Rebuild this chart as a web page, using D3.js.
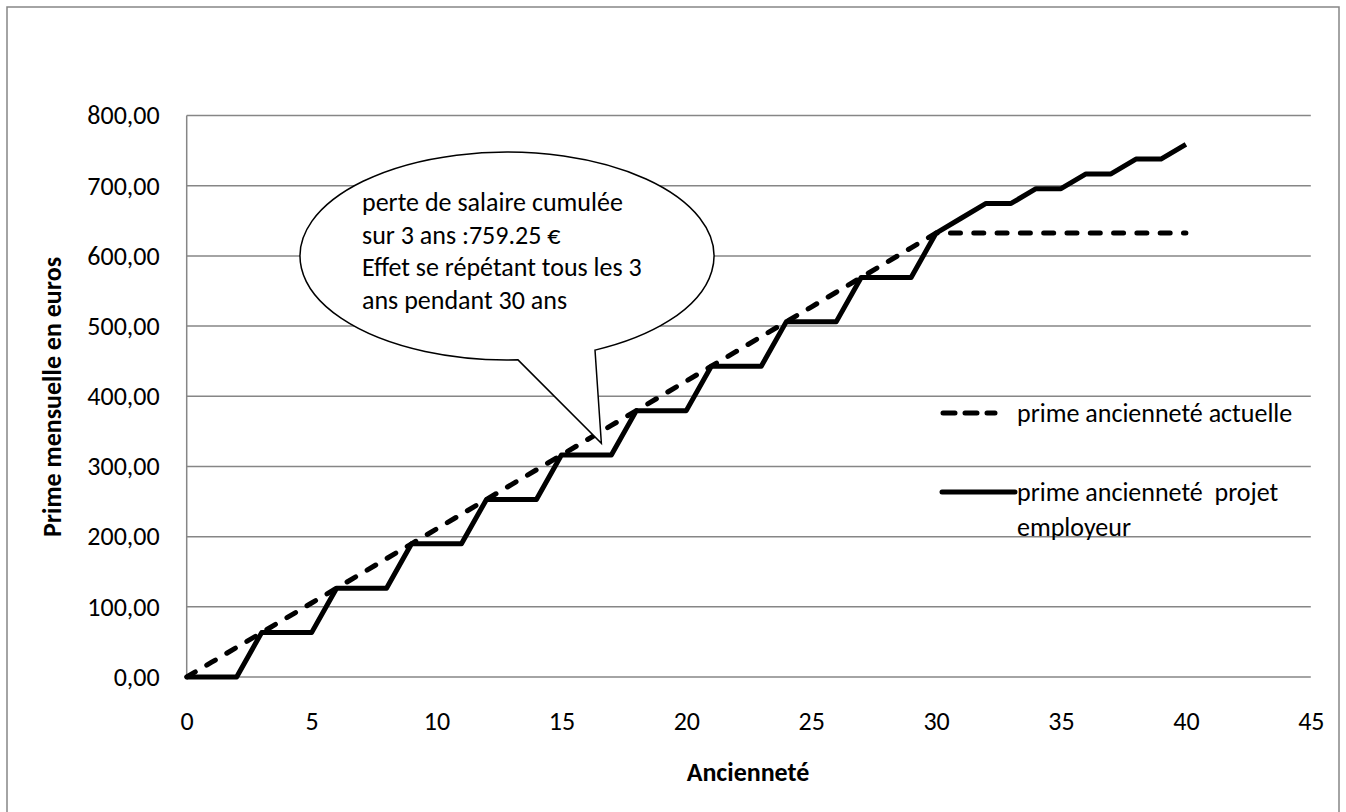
<!DOCTYPE html>
<html>
<head>
<meta charset="utf-8">
<script src="https://cdn.jsdelivr.net/npm/d3@7"></script>
<style>
  body { margin: 0; background: #fff; }
  text { font-family: Carlito, Calibri, Lato, sans-serif; fill: #000; font-size: 26px; }
</style>
</head>
<body>
<div id="chart"></div>
<script>
// data
const anciennete = [0, 1, 2, 3, 4, 5, 6, 7, 8, 9, 10, 11, 12, 13, 14, 15, 16, 17, 18, 19, 20,
  21, 22, 23, 24, 25, 26, 27, 28, 29, 30, 31, 32, 33, 34, 35, 36, 37, 38, 39, 40];

const primeActuelle = [0, 21.08, 42.17, 63.25, 84.33, 105.42, 126.5, 147.58, 168.67, 189.75,
  210.83, 231.92, 253, 274.08, 295.17, 316.25, 337.33, 358.42, 379.5, 400.58, 421.67,
  442.75, 463.83, 484.92, 506, 527.08, 548.17, 569.25, 590.33, 611.42, 632.5,
  632.5, 632.5, 632.5, 632.5, 632.5, 632.5, 632.5, 632.5, 632.5, 632.5];

const primeProjet = [0, 0, 0, 63.25, 63.25, 63.25, 126.5, 126.5, 126.5, 189.75, 189.75, 189.75,
  253, 253, 253, 316.25, 316.25, 316.25, 379.5, 379.5, 379.5, 442.75, 442.75, 442.75,
  506, 506, 506, 569.25, 569.25, 569.25, 632.5, 653.58, 674.67, 674.67, 695.75, 695.75,
  716.83, 716.83, 737.92, 737.92, 759];

const xTicks = [0, 5, 10, 15, 20, 25, 30, 35, 40, 45];
const yTicks = [0, 100, 200, 300, 400, 500, 600, 700, 800];

const serieNames = ['prime ancienneté actuelle', ['prime ancienneté  projet', 'employeur']];
const calloutLines = ['perte de salaire cumulée', 'sur 3 ans :759.25 €',
  'Effet se répétant tous les 3', 'ans pendant 30 ans'];
const calloutTip = [16.6, 333];

const W = 1346, H = 812;
const grid = '#868686';

const svg = d3.select('#chart').append('svg')
  .attr('width', W).attr('height', H);

// outer frame
svg.append('rect')
  .attr('x', 7).attr('y', 7)
  .attr('width', 1332).attr('height', 820)
  .attr('fill', 'none').attr('stroke', grid).attr('stroke-width', 1.5);

const x = d3.scaleLinear().domain([0, 45]).range([186.7, 1310.8]);
const y = d3.scaleLinear().domain([0, 800]).range([677, 115.5]);

// gridlines
svg.append('g').selectAll('line')
  .data(yTicks).enter().append('line')
    .attr('x1', x(0)).attr('x2', x(45))
    .attr('y1', d => y(d)).attr('y2', d => y(d))
    .attr('stroke', grid).attr('stroke-width', 1.5);

// y axis line
svg.append('line')
  .attr('x1', x(0)).attr('x2', x(0))
  .attr('y1', y(800)).attr('y2', y(0))
  .attr('stroke', grid).attr('stroke-width', 1.5);

const fmt = d => d3.format('.2f')(d).replace('.', ',');

const yAxis = d3.axisLeft(y).tickValues(yTicks).tickFormat(fmt).tickSize(0).tickPadding(27);
const gy = svg.append('g').attr('transform', 'translate(' + x(0) + ',0)').call(yAxis);
gy.select('.domain').remove();
gy.selectAll('text').attr('font-size', null).attr('font-family', null).attr('fill', '#000');

const xAxis = d3.axisBottom(x).tickValues(xTicks).tickSize(0);
const gx = svg.append('g').attr('transform', 'translate(0,' + y(0) + ')').call(xAxis);
gx.select('.domain').remove();
gx.selectAll('text').attr('y', 44).attr('dy', '0.35em').attr('fill', '#000');
gx.attr('font-size', null).attr('font-family', null);
gy.attr('font-size', null).attr('font-family', null);

// axis titles
svg.append('text')
  .attr('x', 748).attr('y', 772).attr('dy', '0.35em')
  .attr('text-anchor', 'middle')
  .style('font-weight', 'bold')
  .text('Ancienneté');

svg.append('text')
  .attr('transform', 'translate(52,397) rotate(-90)')
  .attr('dy', '0.35em')
  .attr('text-anchor', 'middle')
  .style('font-weight', 'bold')
  .text('Prime mensuelle en euros');

// series
const line = d3.line().x(d => x(d[0])).y(d => y(d[1]));

svg.append('path')
  .datum(anciennete.map((a, i) => [a, primeActuelle[i]]))
  .attr('d', line)
  .attr('fill', 'none').attr('stroke', '#000').attr('stroke-width', 5)
  .attr('stroke-linecap', 'round').attr('stroke-dasharray', '10,13.3');

svg.append('path')
  .datum(anciennete.map((a, i) => [a, primeProjet[i]]))
  .attr('d', line)
  .attr('fill', 'none').attr('stroke', '#000').attr('stroke-width', 5)
  .attr('stroke-linejoin', 'round');

// callout bubble
const cx = 507, cy = 256, rx = 207, ry = 104;
const onEllipse = px => [px, cy + ry * Math.sqrt(1 - Math.pow((px - cx) / rx, 2))];
const A = onEllipse(518), B = onEllipse(595);
const tip = [x(calloutTip[0]), y(calloutTip[1])];

svg.append('path')
  .attr('d', 'M' + A + 'L' + tip + 'L' + B +
    'A' + rx + ',' + ry + ' 0 1 0 ' + A + 'Z')
  .attr('fill', '#fff').attr('stroke', '#000').attr('stroke-width', 1.5);

svg.append('g').selectAll('text')
  .data(calloutLines).enter().append('text')
    .attr('x', 362)
    .attr('y', (d, i) => 202 + i * 32.5)
    .attr('dy', '0.35em')
    .text(d => d);

// legend
const lg = svg.append('g');
lg.append('line')
  .attr('x1', 943).attr('x2', 995).attr('y1', 413).attr('y2', 413)
  .attr('stroke', '#000').attr('stroke-width', 5)
  .attr('stroke-linecap', 'round').attr('stroke-dasharray', '12,10');
lg.append('text')
  .attr('x', 1017).attr('y', 413).attr('dy', '0.35em')
  .text(serieNames[0]);

lg.append('line')
  .attr('x1', 942).attr('x2', 1015).attr('y1', 492).attr('y2', 492)
  .attr('stroke', '#000').attr('stroke-width', 5).attr('stroke-linecap', 'round');
lg.selectAll('.l2')
  .data(serieNames[1]).enter().append('text')
    .attr('class', 'l2')
    .attr('x', 1017).attr('y', (d, i) => 492 + i * 35).attr('dy', '0.35em')
    .style('white-space', 'pre')
    .text(d => d);
</script>
</body>
</html>
